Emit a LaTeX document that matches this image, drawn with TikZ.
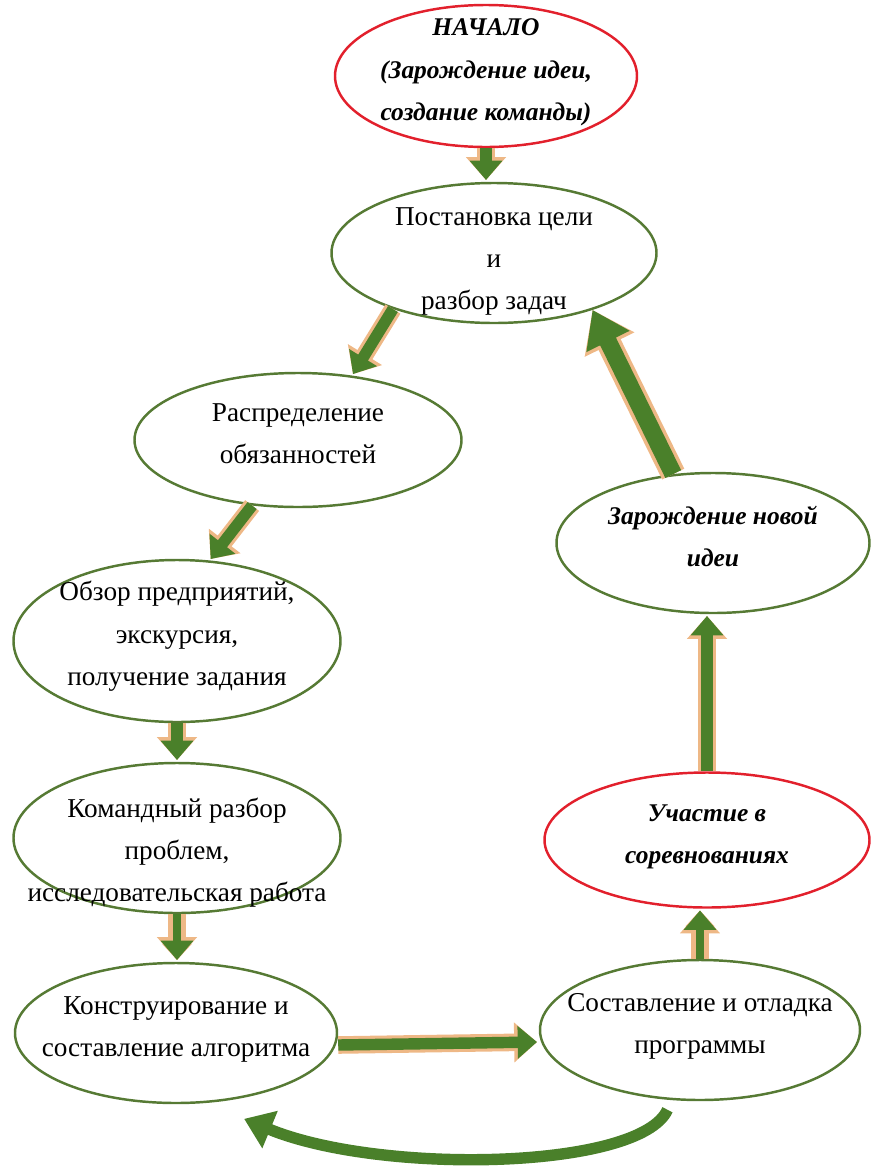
\documentclass[tikz,border=0pt]{standalone}
\usepackage{fontspec}
\setmainfont{Liberation Serif}
\usetikzlibrary{shapes.geometric,arrows.meta}

\definecolor{leaf}{RGB}{74,128,42}
\definecolor{rim}{RGB}{86,122,52}
\definecolor{alarm}{RGB}{226,32,44}
\definecolor{sand}{RGB}{238,184,134}

\newcommand{\ovaltext}[2][0pt]{\makebox[0pt]{\smash{\raisebox{-#1}{\begin{tabular}{@{}c@{}}#2\end{tabular}}}}}

\tikzset{
	oval/.style={ellipse, draw=rim, line width=1.4pt, inner sep=0pt, font=\fontsize{15.5}{24}\selectfont},
	redoval/.style={oval, draw=alarm, font=\fontsize{14.5}{24}\selectfont\bfseries\itshape},
	flow/.style={draw=leaf, line width=6.5pt, -{Triangle[length=11pt,width=18pt]}, shorten >=1pt,
		preaction={draw=sand, line width=10pt, -{Triangle[length=13pt,width=22pt]}}},
	thinflow/.style={flow, line width=4pt, preaction={draw=sand, line width=7pt, -{Triangle[length=9pt,width=16pt]}}},
	bigflow/.style={draw=leaf, line width=10pt, -{Triangle[length=20pt,width=26pt]},
		preaction={draw=sand, line width=14pt, -{Triangle[length=22pt,width=30pt]}}},
	backflow/.style={draw=leaf, line width=6.5pt, -{Triangle[length=16pt,width=22pt]}}
}

\begin{document}
\begin{tikzpicture}
	\useasboundingbox (0, 0) rectangle (17.48, -23.32);
	\draw (9.72, -1.52) node [redoval, minimum width=6.04cm, minimum height=2.84cm] (start)
		{\ovaltext{НАЧАЛО\\ (Зарождение идеи,\\ создание команды)}};
	\draw (9.88, -5.06) node [oval, minimum width=6.5cm, minimum height=2.8cm] (goal)
		{\ovaltext[7pt]{Постановка цели\\ и\\ разбор задач}};
	\draw (5.96, -8.8) node [oval, minimum width=6.54cm, minimum height=2.68cm] (roles)
		{\ovaltext{Распределение\\ обязанностей}};
	\draw (3.54, -12.82) node [oval, minimum width=6.54cm, minimum height=3.24cm] (survey)
		{\ovaltext{Обзор предприятий,\\ экскурсия,\\ получение задания}};
	\draw (3.54, -16.76) node [oval, minimum width=6.54cm, minimum height=3cm] (analysis)
		{\ovaltext[11pt]{Командный разбор\\ проблем,\\ исследовательская работа}};
	\draw (3.52, -20.66) node [oval, minimum width=6.44cm, minimum height=2.8cm] (design)
		{\ovaltext{Конструирование и\\ составление алгоритма}};
	\draw (14.0, -20.6) node [oval, minimum width=6.4cm, minimum height=2.8cm] (program)
		{\ovaltext{Составление и отладка\\ программы}};
	\draw (14.14, -16.8) node [redoval, minimum width=6.5cm, minimum height=2.7cm] (contest)
		{\ovaltext{Участие в\\ соревнованиях}};
	\draw (14.26, -10.86) node [redoval, draw=rim, minimum width=6.26cm, minimum height=2.8cm] (idea)
		{\ovaltext{Зарождение новой\\ идеи}};
	\path (start.south) edge [flow] (start.south |- goal.north);
	\path (goal.209) edge [flow] (roles.50);
	\path (roles.235) edge [flow] (survey.68);
	\path (survey.south) edge [flow] (survey.south |- analysis.north);
	\path (analysis.south) edge [thinflow] (analysis.south |- design.north);
	\path ([yshift=-0.24cm]design.east) edge [flow] ([yshift=-0.24cm]program.west);
	\path (program.north) edge [thinflow] (program.north |- contest.south);
	\path (contest.north) edge [flow] (contest.north |- idea.south);
	\path (idea.120) edge [bigflow] (goal.-30);
	\draw [backflow] ([yshift=-0.2cm]program.245) .. controls (12.8, -23.4) and (7.6, -23.5) .. ([shift={(0.24,-0.38)}]design.310);
\end{tikzpicture}
\end{document}
